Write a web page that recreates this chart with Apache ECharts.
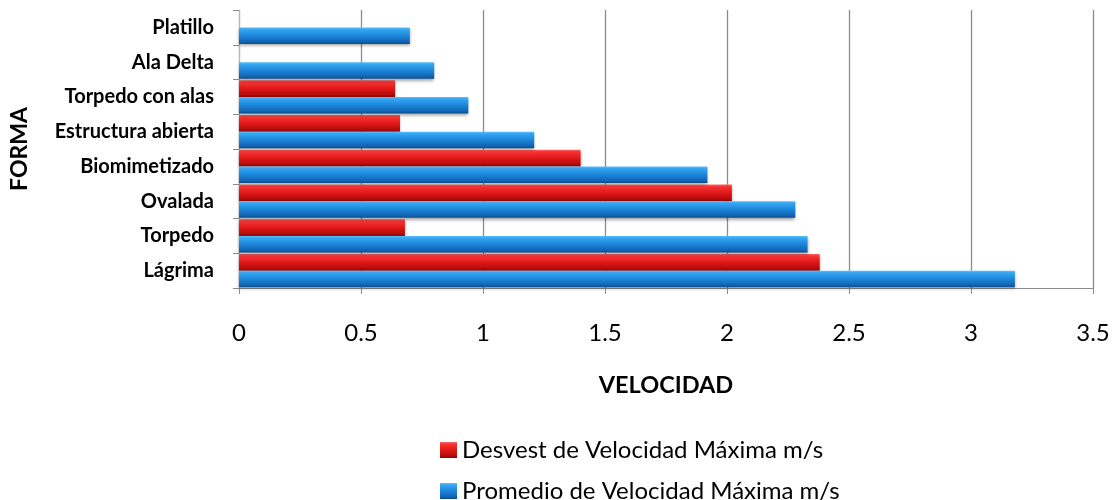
<!DOCTYPE html>
<html>
<head>
<meta charset="utf-8">
<script src="https://cdn.jsdelivr.net/npm/echarts@6/dist/echarts.min.js"></script>
<style>
html,body{margin:0;padding:0;background:#fff;}
#chart{width:1115px;height:500px;}
</style>
</head>
<body>
<div id="chart"></div>
<script>
const categories = ["Lágrima", "Torpedo", "Ovalada", "Biomimetizado", "Estructura abierta", "Torpedo con alas", "Ala Delta", "Platillo"];
const desvest = [2.38, 0.68, 2.02, 1.40, 0.66, 0.64, null, null];
const promedio = [3.18, 2.33, 2.28, 1.92, 1.21, 0.94, 0.80, 0.70];
const seriesNames = ["Desvest de Velocidad Máxima m/s", "Promedio de Velocidad Máxima m/s"];
const xTitle = "VELOCIDAD";
const yTitle = "FORMA";

const FONT = "Lato, 'Open Sans', sans-serif";
function grad(stops) {
  return new echarts.graphic.LinearGradient(0, 0, 0, 1, stops.map((c) => ({ offset: c[0], color: c[1] })));
}
const redFill = grad([[0, '#ff6a6a'], [0.12, '#f83434'], [0.5, '#e01818'], [0.85, '#b80c0c'], [1, '#8c0505']]);
const blueFill = grad([[0, '#5cc4ff'], [0.12, '#36a6f2'], [0.5, '#1d86da'], [0.85, '#1265b4'], [1, '#0a4d8c']]);

const chart = echarts.init(document.getElementById('chart'));
chart.setOption({
  animation: false,
  grid: { left: 239, right: 22, top: 10, bottom: 212, containLabel: false },
  legend: {
    data: seriesNames,
    orient: 'vertical',
    left: 435,
    top: 433,
    height: 120,
    itemWidth: 17,
    itemHeight: 16,
    itemGap: 17,
    icon: 'rect',
    textStyle: { fontFamily: FONT, fontSize: 24, lineHeight: 24, color: '#000' }
  },
  xAxis: {
    type: 'value',
    min: 0, max: 3.5, interval: 0.5,
    name: xTitle,
    nameLocation: 'middle',
    nameGap: 85,
    nameTextStyle: { fontFamily: FONT, fontSize: 23.5, fontWeight: 'bold', color: '#000' },
    axisLine: { show: true, lineStyle: { color: '#8c8c8c', width: 1 } },
    axisTick: { show: true, length: 6, lineStyle: { color: '#8c8c8c' } },
    axisLabel: { margin: 33, fontFamily: FONT, fontSize: 24, color: '#000' },
    splitLine: { show: true, lineStyle: { color: '#8c8c8c', width: 1.3 } }
  },
  yAxis: {
    type: 'category',
    data: categories,
    name: yTitle,
    nameLocation: 'middle',
    nameRotate: 90,
    nameGap: 208,
    nameTextStyle: { fontFamily: FONT, fontSize: 23, fontWeight: 'bold', color: '#000' },
    axisLine: { show: true, lineStyle: { color: '#b8b8b8', width: 1 } },
    axisTick: { show: true, length: 6, alignWithLabel: false, lineStyle: { color: '#8c8c8c' } },
    axisLabel: { margin: 25, fontFamily: FONT, fontSize: 20, fontWeight: 'bold', color: '#000' },
    splitLine: { show: false }
  },
  series: [
    {
      name: seriesNames[0], type: 'bar', data: desvest,
      barGap: '0%', barCategoryGap: '4%',
      itemStyle: { color: redFill, shadowColor: 'rgba(0,0,0,0.35)', shadowBlur: 3, shadowOffsetY: 2 }
    },
    {
      name: seriesNames[1], type: 'bar', data: promedio,
      barGap: '0%', barCategoryGap: '4%',
      itemStyle: { color: blueFill, shadowColor: 'rgba(0,0,0,0.35)', shadowBlur: 3, shadowOffsetY: 2 }
    }
  ]
});
</script>
</body>
</html>
